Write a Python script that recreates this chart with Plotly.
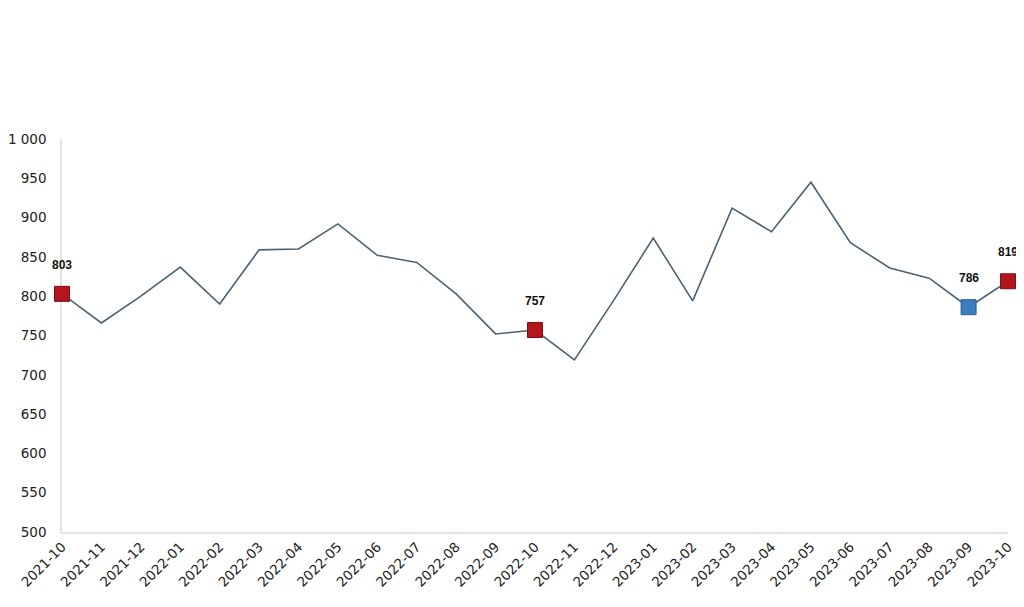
import plotly.graph_objects as go

months = ["2021-10", "2021-11", "2021-12", "2022-01", "2022-02", "2022-03", "2022-04",
          "2022-05", "2022-06", "2022-07", "2022-08", "2022-09", "2022-10", "2022-11",
          "2022-12", "2023-01", "2023-02", "2023-03", "2023-04", "2023-05", "2023-06",
          "2023-07", "2023-08", "2023-09", "2023-10"]
values = [803, 766, 800, 837, 790, 859, 860, 892, 852, 843, 803, 752, 757, 719,
          795, 874, 794, 912, 882, 945, 868, 836, 823, 786, 819]

red_months = ["2021-10", "2022-10", "2023-10"]
blue_months = ["2023-09"]

red_vals = [values[months.index(m)] for m in red_months]
blue_vals = [values[months.index(m)] for m in blue_months]

fig = go.Figure()
fig.add_trace(go.Scatter(x=months, y=values, mode="lines",
                         line=dict(color="#4a6275", width=1.6),
                         hoverinfo="x+y", showlegend=False, cliponaxis=False))
fig.add_trace(go.Scatter(x=red_months, y=red_vals, mode="markers",
                         marker=dict(symbol="square", size=15, color="#b3161d",
                                     line=dict(color="#7a1015", width=1)),
                         showlegend=False, cliponaxis=False))
fig.add_trace(go.Scatter(x=blue_months, y=blue_vals, mode="markers",
                         marker=dict(symbol="square", size=15, color="#3a7dc0",
                                     line=dict(color="#2a5f95", width=1)),
                         showlegend=False, cliponaxis=False))

for m, v in list(zip(red_months, red_vals)) + list(zip(blue_months, blue_vals)):
    fig.add_annotation(x=m, y=v, text=f"<b>{v}</b>", showarrow=False, yshift=29,
                       font=dict(family="Liberation Sans, Arial", size=12, color="#111111"))

fig.update_layout(
    width=1016, height=599,
    margin=dict(l=54, r=16, t=131, b=75),
    plot_bgcolor="white", paper_bgcolor="white",
    separators=". ",
    font=dict(family="DejaVu Sans, sans-serif", size=14, color="#222222"),
)
fig.update_xaxes(type="category", range=[0, 24], showgrid=False, showline=True,
                 linecolor="#e3e3e3", linewidth=1.5, tickangle=-45, ticks="",
                 tickfont=dict(size=13.5, color="#222222"), zeroline=False,
                 automargin=False, layer="below traces")
fig.update_yaxes(range=[500, 1000], dtick=50, showgrid=False, showline=True,
                 linecolor="#e3e3e3", linewidth=1.5, ticks="", tickformat=",d",
                 ticklabelstandoff=11, automargin=False, layer="below traces",
                 tickfont=dict(size=13.5, color="#222222"), zeroline=False)

fig.write_html("out.html")
